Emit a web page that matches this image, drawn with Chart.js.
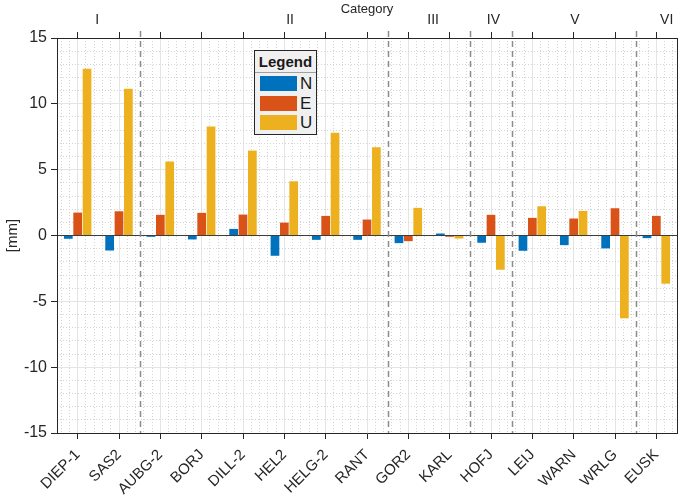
<!DOCTYPE html>
<html>
<head>
<meta charset="utf-8">
<script src="https://cdn.jsdelivr.net/npm/chart.js@4.4.1/dist/chart.umd.min.js"></script>
<style>
body { margin: 0; background: #fff; }
#wrap { position: relative; width: 685px; height: 503px; }
#legend { position: absolute; left: 254px; top: 50px; width: 61px; height: 83px;
  background: #f0f0f0; border: 1px solid #262626; font-family: 'Liberation Sans', Arial, sans-serif; color: #1a1a1a; }
#legend .title { position: absolute; left: 0; top: 0; width: 61px; height: 21px; line-height: 22px;
  text-align: center; font-weight: bold; font-size: 15px; border-bottom: 1px solid #a0a0a0; }
#legend .sw { position: absolute; left: 5px; width: 37px; height: 15px; }
#legend .lb { position: absolute; left: 45px; font-size: 17px; line-height: 17px; }
</style>
</head>
<body>
<div id="wrap"><canvas id="chart"></canvas><div id="legend"></div></div>
<script>
// данные ---------------------------------------------------------------------
var categories = ['DIEP-1', 'SAS2', 'AUBG-2', 'BORJ', 'DILL-2', 'HEL2', 'HELG-2', 'RANT',
                  'GOR2', 'KARL', 'HOFJ', 'LEIJ', 'WARN', 'WRLG', 'EUSK'];
var valuesN = [-0.25, -1.14, -0.1, -0.3, 0.5, -1.54, -0.33, -0.33, -0.58, 0.15, -0.55, -1.16, -0.73, -0.98, -0.2];
var valuesE = [1.74, 1.84, 1.57, 1.72, 1.59, 0.98, 1.49, 1.21, -0.43, -0.1, 1.57, 1.34, 1.29, 2.07, 1.49];
var valuesU = [12.66, 11.14, 5.62, 8.28, 6.45, 4.12, 7.8, 6.7, 2.1, -0.23, -2.6, 2.22, 1.87, -6.29, -3.66];
var seriesNames = ['N', 'E', 'U'];
var seriesColors = ['#0072BD', '#D95319', '#EDB120'];
var groupNames = ['I', 'II', 'III', 'IV', 'V', 'VI'];
var groupSizes = [2, 6, 2, 1, 3, 1];
var groupLabelPos = [0.47, 5.14, 8.6, 10.06, 12.03, 14.25];
var yMin = -15, yMax = 15, yStep = 5;

Chart.defaults.font.family = "'Liberation Sans', Arial, sans-serif";
Chart.defaults.color = '#262626';

// границы групп (пунктир)
var separators = [];
var acc = 0;
groupSizes.forEach(function (n, i) {
    acc += n;
    if (i < groupSizes.length - 1) separators.push(acc - 0.5);
});

var separatorPlugin = {
    id: 'separators',
    afterDatasetsDraw: function (chart) {
        var ctx = chart.ctx, x = chart.scales.x, top = chart.scales.xTop;
        ctx.save();
        ctx.strokeStyle = '#8c8c8c';
        ctx.lineWidth = 1.5;
        ctx.setLineDash([6, 4]);
        separators.forEach(function (s) {
            var px = Math.round(x.getPixelForValue(s)) + 0.5;
            ctx.beginPath();
            ctx.moveTo(px, top.top);
            ctx.lineTo(px, chart.chartArea.bottom);
            ctx.stroke();
        });
        ctx.restore();
    }
};

var datasets = [valuesN, valuesE, valuesU].map(function (vals, i) {
    return {
        label: seriesNames[i],
        data: vals,
        backgroundColor: seriesColors[i],
        borderWidth: 0,
        categoryPercentage: 0.68,
        barPercentage: 0.93
    };
});

var ctx = document.getElementById('chart').getContext('2d');
var chart = new Chart(ctx, {
    type: 'bar',
    data: { labels: categories, datasets: datasets },
    options: {
        responsive: true,
        maintainAspectRatio: false,
        animation: false,
        layout: { padding: { left: 0, right: 8, top: 0, bottom: 0 } },
        plugins: { legend: { display: false }, tooltip: { enabled: false } },
        scales: {
            x: {
                position: 'bottom',
                weight: 1,
                grid: { offset: false, color: '#e4e4e4', tickColor: '#262626', tickLength: 6 },
                border: { color: '#262626', width: 1 },
                ticks: { font: { size: 15 }, maxRotation: 45, minRotation: 45, autoSkip: false, padding: 7 },
                afterFit: function (s) { s.height = 70; }
            },
            xMinor: {
                type: 'linear', position: 'bottom', weight: 0, offset: false,
                min: -0.5, max: categories.length - 0.5,
                grid: { offset: false, color: '#d4d4d4', drawTicks: false },
                border: { display: false, dash: [1, 2] },
                ticks: { display: false },
                afterBuildTicks: function (s) {
                    var t = [];
                    for (var k = 0; k < categories.length * 5 + 5; k++) {
                        var v = -0.4 + k * 0.2;
                        if (v > categories.length - 0.5) break;
                        if (Math.abs(v - Math.round(v)) > 0.01) t.push({ value: v });
                    }
                    s.ticks = t;
                },
                afterFit: function (s) { s.height = 0; }
            },
            xTop: {
                type: 'category', position: 'top', weight: 0,
                labels: categories,
                offset: true,
                grid: { offset: false, drawOnChartArea: false, tickColor: '#262626', tickLength: 6 },
                border: { color: '#262626', width: 1 },
                ticks: { display: false },
                afterFit: function (s) { s.height = 7; }
            },
            xGroups: {
                type: 'linear', position: 'top', weight: 1, offset: false,
                min: -0.5, max: categories.length - 0.5,
                grid: { offset: false, display: false, drawTicks: false },
                border: { display: false },
                title: { display: true, text: 'Category', font: { size: 13 }, padding: { top: 2, bottom: 0 } },
                ticks: {
                    autoSkip: false, font: { size: 14 }, padding: 2,
                    callback: function (v, i) { return groupNames[i]; }
                },
                afterBuildTicks: function (s) {
                    s.ticks = groupLabelPos.map(function (p) { return { value: p }; });
                },
                afterFit: function (s) { s.height = 31; }
            },
            y: {
                position: 'left', weight: 1,
                min: yMin, max: yMax,
                ticks: { stepSize: yStep, font: { size: 16 }, padding: 4 },
                grid: {
                    color: function (c) { return c.tick && c.tick.value === 0 ? '#3c3c3c' : '#e4e4e4'; },
                    tickColor: '#262626', tickLength: 6
                },
                border: { color: '#262626', width: 1 },
                title: { display: true, text: '[mm]', font: { size: 15 }, padding: { top: 4, bottom: 2 } },
                afterFit: function (s) { s.width = 57; }
            },
            yMinor: {
                position: 'right', weight: 0,
                min: yMin, max: yMax,
                grid: { color: '#d4d4d4', drawTicks: false },
                border: { display: false, dash: [1, 2] },
                ticks: { display: false },
                afterBuildTicks: function (s) {
                    var t = [];
                    for (var v = yMin + 1; v < yMax; v++) {
                        if (v % yStep !== 0) t.push({ value: v });
                    }
                    s.ticks = t;
                },
                afterFit: function (s) { s.width = 0; }
            },
            yRight: {
                position: 'right', weight: 1,
                min: yMin, max: yMax,
                grid: { display: false, drawTicks: false },
                border: { color: '#262626', width: 1 },
                ticks: { display: false },
                afterFit: function (s) { s.width = 0; }
            }
        }
    },
    plugins: [separatorPlugin]
});

// легенда --------------------------------------------------------------------
var legend = document.getElementById('legend');
var html = '<div class="title">Legend</div>';
seriesNames.forEach(function (name, i) {
    var top = 25 + i * 19.5;
    html += '<div class="sw" style="top:' + top + 'px;background:' + seriesColors[i] + '"></div>' +
            '<div class="lb" style="top:' + (top - 1) + 'px">' + name + '</div>';
});
legend.innerHTML = html;
</script>
</body>
</html>
